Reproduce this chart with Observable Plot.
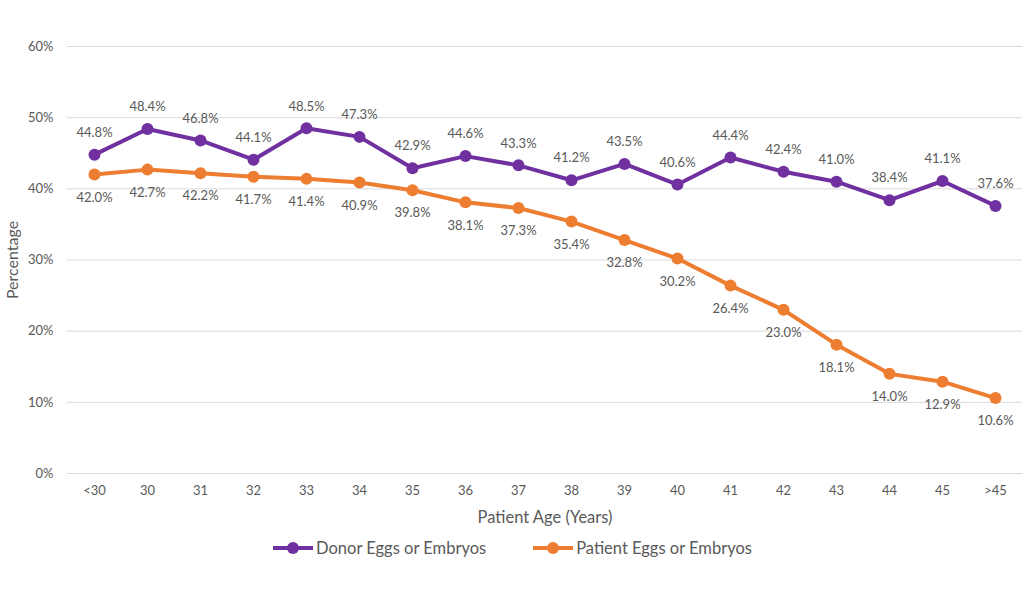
<!DOCTYPE html>
<html><head><meta charset="utf-8">
<script src="https://cdn.jsdelivr.net/npm/d3@7"></script>
<script src="https://cdn.jsdelivr.net/npm/@observablehq/plot@0.6"></script>
<style>
body{margin:0;background:#fff;font-family:Lato,"Open Sans",sans-serif;}
#legend{display:flex;justify-content:center;gap:46px;font-size:16.5px;color:#595959;margin-top:8px;margin-left:0px}
.item{display:flex;align-items:center;gap:2px}
</style></head><body>
<div id="chart"></div>
<div id="legend"></div>
<script>
const ages = ["<30","30","31","32","33","34","35","36","37","38","39","40","41","42","43","44","45",">45"];
const donor = [44.8,48.4,46.8,44.1,48.5,47.3,42.9,44.6,43.3,41.2,43.5,40.6,44.4,42.4,41.0,38.4,41.1,37.6];
const patient = [42.0,42.7,42.2,41.7,41.4,40.9,39.8,38.1,37.3,35.4,32.8,30.2,26.4,23.0,18.1,14.0,12.9,10.6];
const seriesNames = ["Donor Eggs or Embryos","Patient Eggs or Embryos"];
const colors = ["#7030A0","#ED7D31"];
const yTicks = [0,10,20,30,40,50,60];

const dData = ages.map((a,i)=>({age:a,v:donor[i]}));
const pData = ages.map((a,i)=>({age:a,v:patient[i]}));
const fmt = d => d.toFixed(1)+"%";

const chart = Plot.plot({
  width:1024, height:530,
  marginLeft:67, marginRight:2, marginTop:46, marginBottom:57,
  style:{fontFamily:"Lato, 'Open Sans', sans-serif", fontSize:"13px", color:"#595959"},
  x:{type:"point", domain:ages, padding:0.5},
  y:{domain:[0,60]},
  marks:[
    Plot.gridY(yTicks,{stroke:"#d9d9d9", strokeOpacity:1, strokeWidth:1}),
    Plot.axisX({tickSize:0, tickPadding:12, fontSize:13, label:null}),
    Plot.axisY({ticks:yTicks, tickFormat:d=>d+"%", tickSize:0, tickPadding:14, fontSize:13, label:null}),
    Plot.text(["Patient Age (Years)"],{frameAnchor:"bottom", dy:49, fontSize:16.5, fill:"#595959"}),
    Plot.text(["Percentage"],{frameAnchor:"left", textAnchor:"middle", dx:-55, rotate:-90, fontSize:16, fill:"#595959"}),
    Plot.line(pData,{x:"age",y:"v",stroke:colors[1],strokeWidth:4}),
    Plot.dot(pData,{x:"age",y:"v",fill:colors[1],r:6}),
    Plot.text(pData,{x:"age",y:"v",text:d=>fmt(d.v),dy:23,fill:"#595959",fontSize:13}),
    Plot.line(dData,{x:"age",y:"v",stroke:colors[0],strokeWidth:4}),
    Plot.dot(dData,{x:"age",y:"v",fill:colors[0],r:6}),
    Plot.text(dData,{x:"age",y:"v",text:d=>fmt(d.v),dy:-22,fill:"#595959",fontSize:13})
  ]
});
document.getElementById("chart").appendChild(chart);

const leg = document.getElementById("legend");
seriesNames.forEach((n,i)=>{
  const it = document.createElement("div"); it.className="item";
  it.innerHTML = `<svg width="42" height="14"><line x1="1" x2="41" y1="7" y2="7" stroke="${colors[i]}" stroke-width="4"/><circle cx="21" cy="7" r="6" fill="${colors[i]}"/></svg><span>${n}</span>`;
  leg.appendChild(it);
});
</script>
</body></html>
